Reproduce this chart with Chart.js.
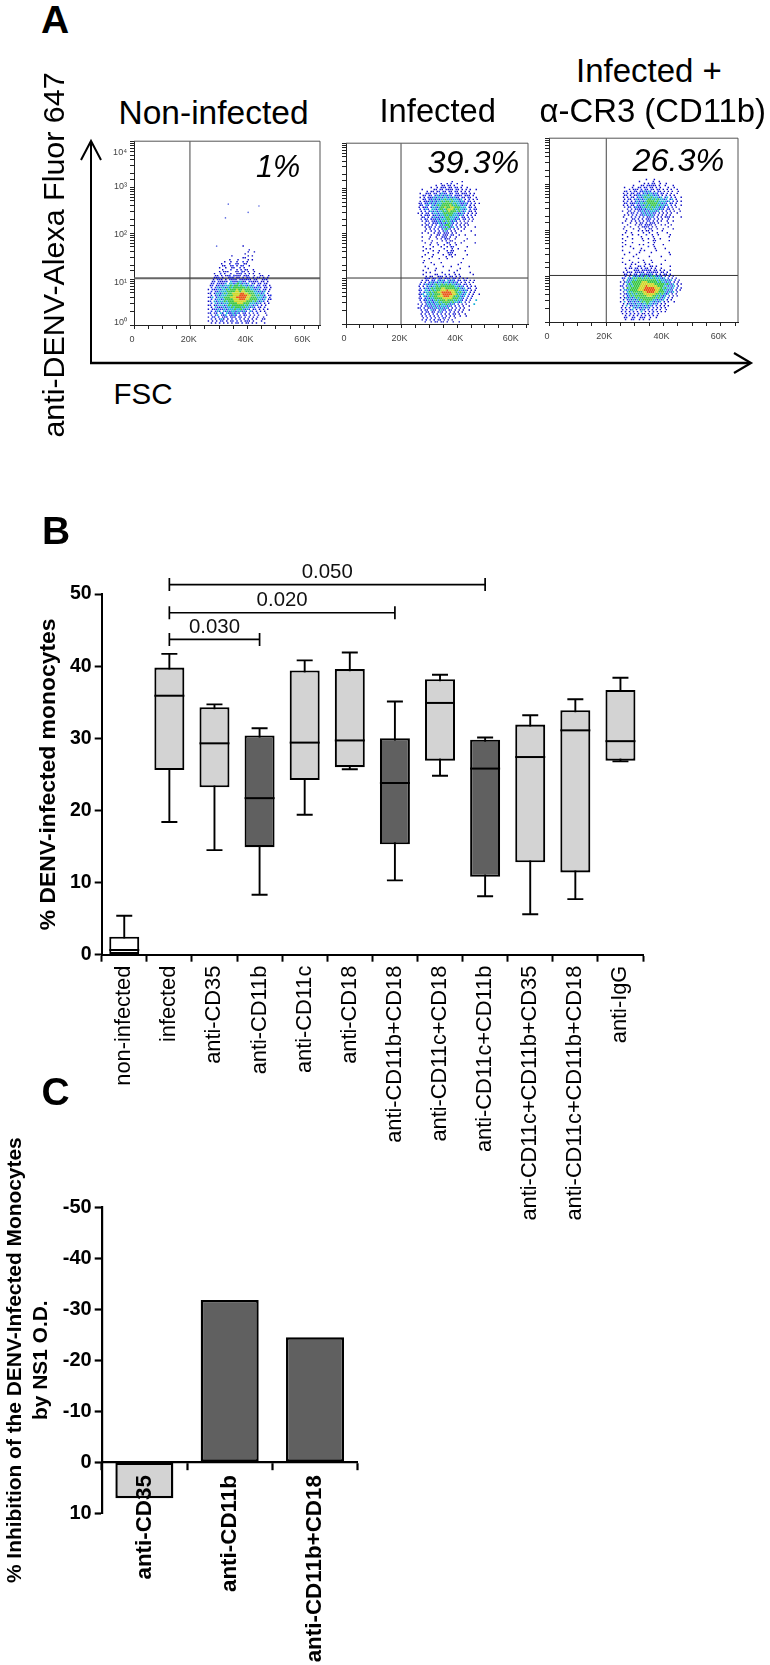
<!DOCTYPE html>
<html><head><meta charset="utf-8">
<style>
html,body{margin:0;padding:0;background:#fff;width:770px;height:1665px;overflow:hidden}
canvas{position:absolute}
.t{position:absolute;white-space:nowrap;line-height:1;font-family:"Liberation Sans",Arial,sans-serif;color:#000;transform-origin:center}
svg{position:absolute;left:0;top:0}
</style>
<script src="https://cdn.jsdelivr.net/npm/chart.js@4/dist/chart.umd.min.js"></script>
</head><body>
<svg width="770" height="440" fill="none" stroke="#000">
<path d="M91 141V363" stroke-width="2"/><path d="M81 160L91 141L101 160" stroke-width="2"/>
<path d="M90 363H750" stroke-width="2.4"/><path d="M734 353L751 363L734 373" stroke-width="2.2"/>
</svg>
<canvas id="p1"></canvas><canvas id="p2"></canvas><canvas id="p3"></canvas>
<canvas id="box"></canvas><canvas id="bar"></canvas>
<script>
/* ---------- Panel B data (box plot) ---------- */
const boxCategories=["non-infected","infected","anti-CD35","anti-CD11b","anti-CD11c","anti-CD18","anti-CD11b+CD18","anti-CD11c+CD18","anti-CD11c+CD11b","anti-CD11c+CD11b+CD35","anti-CD11c+CD11b+CD18","anti-IgG"];
const whiskerLow =[0,18.4,14.5,8.3,19.4,25.7,10.3,24.8,8.1,5.6,7.7,26.8];
const quartile1  =[0,25.6,23.2,14.9,24.2,26.0,15.3,26.9,10.8,12.8,11.4,26.9];
const medians    =[0.65,35.9,29.3,21.7,29.4,29.7,23.8,34.9,25.8,27.4,31.1,29.6];
const quartile3  =[2.5,39.8,34.3,30.4,39.4,39.6,30.0,38.2,29.8,31.9,33.9,36.7];
const whiskerHigh=[5.4,41.7,34.7,31.4,40.8,41.9,35.1,38.8,30.1,33.2,35.4,38.4];
const boxYTicks=[0,10,20,30,40,50];
const bracketFrom=["infected","infected","infected"];
const bracketTo=["anti-CD11b","anti-CD11b+CD18","anti-CD11c+CD11b"];
const bracketLevel=[43.7,47.4,51.3];
const bracketLabel=["0.030","0.020","0.050"];
/* ---------- Panel C data (bars) ---------- */
const barCategories=["anti-CD35","anti-CD11b","anti-CD11b+CD18"];
const barValues=[7.1,-31.8,-24.5];
/* ---------- Panel A data: gates, percentages, density ---------- */
const fscTicks=[0,20,40,60];
const flTicks=[1,10,100,1000,10000];
const nonInfectedGate=[19.7,10.4], infectedGate=[19.8,10.4], blockedGate=[20,10.3];
const nonInfectedOutliers=[[33.2,427],[32.2,214],[40.2,282],[44,389],[29.1,52]];
/* each character is one density cell: b,m blue, c cyan, g green, y yellow, r red */
const nonInfectedDensity=[
"                 b             ",
"                               ",
"                    b          ",
"                   b  b        ",
"                  b            ",
"           b       b b         ",
"                 bb            ",
"          b   b    b b         ",
"        b  b  b  m b           ",
"      b   b  mb  bb            ",
"       bb  bm b bm  b          ",
"     b  b  bb  m b             ",
"       b   m  b b bb  b        ",
"     b bbb   bb mb b  b        ",
"   b  m b  b  bbm b b b  b     ",
"   bb b bbm mbbb bmb  b  bb  b ",
"   bbm b  bmb bb b bm b bb b b ",
"  b mmb b mbmb mbmbmb mb  bmb  ",
"  bm mbbmm cmmbccbm mmbbm bb b ",
" bm mmbmc ccmcgcmcmc mb mb mb  ",
" bm bmcmcccgcggcgccmcmc mm mb b",
" m mcmccmcgcggggggcgccmmcm bm b",
"b mbmcmccgcgggyggygggccmcm mb b",
" m mmccccggggyygyyggggccmcmc b ",
"bm bccmcgcggyyyyrryygggcccmc b ",
" b mcmcccgggyyyrrrryyggcgccm bm",
"bmc mcccgggyyyrrrrryygggcccmc b",
" m mccmcggggyyyrrryyggggccmc bb",
"bm cmcccgcgggyyyyyygggcgcmcm b ",
" m cmcmcccggggyyygggcccmcm b b ",
"bm bmcccmcgcggggggcgccmcm b b  ",
" b cmbmcmccgcgggcgccmcm mb m   ",
"b bmmcmmcmcccgccgcmcm bm b b b ",
" m mcm cmcmccmccmcm cm m b b   ",
"bm bm cm cmmcmcm bm b b m   b  ",
" b bc bmc bmcm b mb b b b   b  ",
"b mm m bmm mbm mb b m b b  b   ",
" m b mcb b m b m b b b b  bb   ",
"b b b mm b bm m b bmb b   b    ",
" b b m b b b mb m bb b b   b   "];
const infectedDensity=[
"                 b    b        ",
"           b  b m  b           ",
"         b  bb mb b   b        ",
"      b  b bmb bb mb b  b      ",
"  b     bb mb mbmb mb b b b  b ",
"    b bb bm mb mb mb b b b     ",
" b  bmb mb mcmm bm mb bmb b b  ",
"  bm bm mcmcmcmcm mmbm bmb b   ",
" b b mbmcmccmccmcmcmb mb mb  b ",
"  bm mmcmcmccgccgcccmc b m b b ",
" b bmbcmcmccgcggcgcccmcm mb b  ",
"bm mmcmcmcccgggggcgccmmcm m b b",
" bm cm cmcgcggggygcgccmcm b b  ",
"b bmm mccmcggyggyygggccc bm b  ",
" m mcm ccmcggcgyyygcgccmc m mb ",
" b m mcmcmccgcgygggcgcmc mb b  ",
"b b mb mccmccgggggccmmcm b b b ",
" b mbm bmcmccgcggcccmcm b m b  ",
"  bm b mcmmcmcggcccmc mb m b    ",
" b mb mbmcmcccggccmcm bm b b   ",
"  b mb bmmcmcgcgcmcm b b b b   ",
"   b b mbmcmcmcgcm b b bb      ",
"  b bm b m cmcggcm m b b b     ",
"   b bm m mmcmcgmc m b b    b  ",
"    b b m m mcgcm b b  b       ",
"   b  b m b mcm b b  b    b    ",
"  b  b  b bm bmb b b           ",
"      b  bb mbb mb  b  b    b  ",
"  b   b  b  bmb b  b           ",
"     b   b b mbb  b     b      ",
"  b    b    b b bb     b       ",
"   b  b  b    mb  b  b      b  ",
"      b   m  b  b  b           ",
"  b    b   b  b bm      b      ",
"    b b      m   b  b          ",
"  b    b  b   b bb     b       ",
"     b    b    bmb             ",
"   b   b    b  bb b     b      ",
"  b    b      b  b             ",
"     b    b   b       b        ",
"   b                           ",
"  b   b    b         b          ",
"        b           b          ",
"   b        b   b        b     ",
"     b   b           b         ",
"  b     b      b   b           ",
"    b b     b     b       b    ",
"  b     bb   m b  b b      b   ",
"    b bb  bmb b mb b b         ",
"   bmb bm mb bmb mb b b b      ",
"  b mb mm cmcm cmcm mb mb b b  ",
" b b mcmcmccmccmcmcm b b b b   ",
" m mcmcmcgccgcgcgccmcm bm b    ",
"b b mcmccgcgggggggccmcm b b b  ",
" m mcmcgcgggyygggggcgcmc bm  b ",
"bm ccmcgcggyyyryyyggccmcm b b  ",
" m mccgcggyyrrrrryygcgcmc b b  ",
"bmc ccgcgggyrrrrryygccmc m b  b",
" b cmcgcggyyyrrryygcgcmc m b   ",
"bm mcmccggggyyyyygggccm b m    ",
" m mmccmcgcgggygggcgccm m b  c ",
" b bcmcmccgcggggcgccmc b b     ",
"b b mcmcmccgccgcmcm b b b   c  ",
" b mmcmcmcmcccmcm b m b  b     ",
"bm m bmmcmcmcmcm b m b b       ",
" b mb cmb mcmm bm b b b  b     ",
"  b mb bm mcm m m b b b        ",
" b m b m b m b b mb b  b       ",
"  b m b b m m b b b  b  b      ",
"  b b m b b mb b  b            ",
"  b m b m bm b b b             ",
"   b  b bb bb b  b  b          "];
const blockedDensity=[
"             b   b             ",
"         b      b  b           ",
"            b b mb  b  b       ",
"      b   bb mbmbb b  b   b    ",
"  b   b  bm bm mb b b   b  b   ",
"    b bmb m mb mb mb b b b  b  ",
"  bm b mb mmcmcm b mb b b b  b ",
" b b mb mm mcmccmcm mb b b  b  ",
"  bm b bmcmcccgccmcm b m b b   ",
" b b mb mcmcgccgcccmc mc m b  b",
"  b mb mcmcmccggcgcgccmc mc b  ",
" b m b mcmcmcggggcgccccmc m b b",
"  bm mbmcmccgcgggggccmcm bm b  ",
" b b mb mmcmcgcgggcgccmc m b  b",
"  b mb mcmmccgcgcgccmcm m b b  ",
"   b b mbmmcmccgcccmcm bm b  b ",
" b  bm b mmcmcmcccmc b m b b  b",
"   b bm m mcmcmcmm b b b b  b  ",
"  b b m b mmcmcmcm b b b b     ",
" b   b m b m bmcm b b bmb b   b",
"   b  bm b b mbm m b b  b      ",
"  b  b b m b mm b b b  b  b    ",
" b   b  b bm b bmb b    b      ",
"   b   b bb mbmb b  b b  b     ",
"  b  b   b bmbb b b     b      ",
" b    b  b  b mb  b  b    b    ",
"   b     b b bb b    b         ",
"  b  b     b  b   b    b       ",
" b    b  b   m  b  b     b     ",
"   b      b     b       b      ",
" b    b    b  b  b  b          ",
"  b        b    bb      b      ",
" b    b       b  b             ",
"  b      b b    b    b         ",
" b   b        m  b             ",
"      b   b      b    b        ",
" b        b b     b            ",
"    b    b     b        b      ",
"  b     b                b     ",
"      b       b     b          ",
" b       b                     ",
"    b      b   b      b        ",
" b    b  b  b   b              ",
"  b  b b    b b     b          ",
"     b   bm b  bb b      b     ",
"  b bb mb b mb b b  b          ",
"   b   bmb bmbmb bb b b  b     ",
" b bmb bmbmb mbmbmb bb b       ",
"  bm b mb mcmbmcm b b mb b     ",
"  m b cmcmcmgcmcgcmcm b m b    ",
" mb cmcgcggcgcgccgcccmc b b b  ",
" b cmcgcggggggggggcgccmcmc m b ",
"b bcmcgggggyyygggggcgccmcm b b ",
" b cgcggggyyyyyyygggggcgcmc b b",
"bm mcgcgggyyyryyyyygggccmcmc b ",
" m gcggggyyyrrrrryyygcgccmc m b",
"b cmcggggyyyrrrrrryyggccmcm b b",
" b cgcgggggyyrrrryygggcmcmc b  ",
"b bmcgcgcgggyyyyyyggcgcmc b b  ",
" b mcgcggggggyyyggcgcmc b b b  ",
"b bcmcmcgcggggggggcgcmc m b    ",
" b mcmcmcgcgggggccmcmc b b     ",
"b c bmcmcmcgcggccmcmc b b  b   ",
" b bcmcmccmccgccmcm b b        ",
" b c bmcmcmcmcmcm m b b b      ",
"b b m cmcmmcmcm m b b b        ",
" m b mc b mcm m m b b  b       ",
"b m b m b c b b m b b b        ",
" b b m b m bb b m  b           ",
"  b m b b b m b b b            ",
"  bm  bm  bmb  b  b            ",
"  b  bm  b b  b                "];

/* ---------- Styles and layout ---------- */
const FONT='"Liberation Sans",Arial,sans-serif';
const densityColors={b:"#0808c4",m:"#1a2cea",c:"#14aed6",g:"#38c644",y:"#cfd82a",r:"#ea5414"};
const densitySizes={b:1,m:1.1,c:1.2,g:1.35,y:1.4,r:1.4};
const darkBoxes=["anti-CD11b","anti-CD11b+CD18","anti-CD11c+CD11b"];
const LIGHT="#d3d3d3",DARK="#606060";
Chart.defaults.font.family=FONT;
Chart.defaults.animation=false;
Chart.defaults.responsive=false;
Chart.defaults.devicePixelRatio=1;
Chart.defaults.plugins.legend.display=false;
Chart.defaults.plugins.tooltip.enabled=false;

function setCanvas(id,l,t,w,h){const c=document.getElementById(id);c.style.left=l+"px";c.style.top=t+"px";c.width=w;c.height=h;return c;}

function densityPoints(rows,x0,colStep,logTop,logStep){
  const out={};
  rows.forEach((row,r)=>{[...row].forEach((ch,c)=>{
    if(ch===" ")return;
    (out[ch]=out[ch]||[]).push({x:x0+(c+(r%2)*0.5)*colStep,y:Math.pow(10,logTop-r*logStep)});
  });});
  return out;
}

function flowPlot(id,box,xMax,gate,dens,outliers,yLabels,gateW){
  const pad={l:44,t:8,r:6,b:26};
  const c=setCanvas(id,box.l-pad.l,box.t-pad.t,box.r-box.l+pad.l+pad.r,box.b-box.t+pad.t+pad.b);
  const sets=[];
  ["b","m","c","g","y","r"].forEach(k=>{if(dens[k])sets.push({data:dens[k],showLine:false,pointStyle:"rect",pointRadius:densitySizes[k],pointBorderWidth:0,backgroundColor:densityColors[k],borderColor:densityColors[k]});});
  if(outliers.length)sets.push({data:outliers.map(p=>({x:p[0],y:p[1]})),showLine:false,pointRadius:.8,pointBorderWidth:0,backgroundColor:"#5a6ae0"});
  sets.push({data:[{x:gate[0],y:1},{x:gate[0],y:10000}],showLine:true,pointRadius:0,borderColor:"#444",borderWidth:1});
  sets.push({data:[{x:0,y:gate[1]},{x:xMax,y:gate[1]}],showLine:true,pointRadius:0,borderColor:gateW>1?"#666":"#333",borderWidth:gateW});
  new Chart(c,{type:"scatter",data:{datasets:sets},
    options:{layout:{padding:{top:pad.t,right:pad.r,left:0,bottom:0}},
      scales:{
        x:{type:"linear",min:0,max:xMax,afterFit:s=>{s.height=pad.b;},
          grid:{drawOnChartArea:false,tickLength:4,tickColor:"#222",tickWidth:1},border:{color:"#222",width:1},
          ticks:{stepSize:5,includeBounds:false,autoSkip:false,maxRotation:0,padding:5,labelOffset:-2,color:"#444",font:{size:9},
            callback:v=>fscTicks.includes(v)?(v===0?"0":v+"K"):""}},
        y:{type:"logarithmic",min:1,max:10000,afterFit:s=>{s.width=pad.l;},
          grid:{drawOnChartArea:false,tickLength:4,tickColor:"#222",tickWidth:1},border:{color:"#222",width:1},
          ticks:{autoSkip:false,callback:()=>""}}
      }},
    plugins:[{id:"frame",afterDraw(ch){
      const a=ch.chartArea,ctx=ch.ctx;ctx.save();ctx.strokeStyle="#555";ctx.lineWidth=1;
      ctx.beginPath();ctx.moveTo(a.left,a.top);ctx.lineTo(a.right,a.top);ctx.lineTo(a.right,a.bottom);ctx.stroke();
      if(yLabels){ctx.fillStyle="#444";ctx.font="9px "+FONT;ctx.textAlign="right";ctx.textBaseline="middle";
        const sup=["\u2070","\u00b9","\u00b2","\u00b3","\u2074"],off=[-2,3,1,-1,11];
        flTicks.forEach((v,i)=>ctx.fillText("10"+sup[i],a.left-7,ch.scales.y.getPixelForValue(v)+off[i]));}
      ctx.restore();}}]
  });
}

flowPlot("p1",{l:133.5,t:139,r:320,b:325},65.5,nonInfectedGate,densityPoints(nonInfectedDensity,26.2,0.72,1.72,0.043),nonInfectedOutliers,true,2);
flowPlot("p2",{l:345.7,t:141,r:528,b:324.3},65.5,infectedGate,densityPoints(infectedDensity,26,0.72,3.15,0.0437),[],false,1);
flowPlot("p3",{l:548.5,t:136,r:737.5,b:322.3},66,blockedGate,densityPoints(blockedDensity,25,0.694,3.10,0.0429),[],false,1);

/* ---------- Panel B ---------- */
const boxArea={l:101.7,t:594,r:643,b:954.7};
const boxCanvas={t:540,h:720};
const bc=setCanvas("box",0,boxCanvas.t,770,boxCanvas.h);
new Chart(bc,{type:"bar",
  data:{labels:boxCategories,datasets:[{data:boxCategories.map((_,i)=>[quartile1[i],quartile3[i]]),
    backgroundColor:boxCategories.map((n,i)=>i===0?"#fff":darkBoxes.includes(n)?DARK:LIGHT),
    borderColor:"#000",borderWidth:2.1,borderSkipped:false,barPercentage:.665,categoryPercentage:1}]},
  options:{layout:{padding:{top:boxArea.t-boxCanvas.t,right:770-boxArea.r}},
    scales:{
      x:{type:"category",afterFit:s=>{s.height=boxCanvas.t+boxCanvas.h-boxArea.b;},
        grid:{drawOnChartArea:false,tickLength:7,tickColor:"#000",tickWidth:2},border:{color:"#000",width:2},
        ticks:{color:"#000",autoSkip:false,minRotation:90,maxRotation:90,padding:4,font:{size:21.8}}},
      y:{min:0,max:50,afterFit:s=>{s.width=boxArea.l;},
        grid:{drawOnChartArea:false,tickLength:7,tickColor:"#000",tickWidth:2},border:{color:"#000",width:2},
        afterBuildTicks:s=>{s.ticks=boxYTicks.map(v=>({value:v}));},
        ticks:{color:"#000",padding:3,font:{size:19.5,weight:"bold"}},
        title:{display:true,text:"% DENV-infected monocytes",color:"#000",font:{size:22.9,weight:"bold"},padding:{top:35,bottom:0}}}
    }},
  plugins:[{id:"whiskers",
    beforeDatasetsDraw(ch){
      const ctx=ch.ctx,x=ch.scales.x,y=ch.scales.y;ctx.save();ctx.strokeStyle="#000";ctx.lineWidth=1.9;
      boxCategories.forEach((n,i)=>{const px=x.getPixelForValue(i);
        ctx.beginPath();
        ctx.moveTo(px,y.getPixelForValue(whiskerLow[i]));ctx.lineTo(px,y.getPixelForValue(whiskerHigh[i]));
        [whiskerLow[i],whiskerHigh[i]].forEach(v=>{const py=y.getPixelForValue(v);ctx.moveTo(px-8,py);ctx.lineTo(px+8,py);});
        ctx.stroke();});
      ctx.restore();},
    afterDatasetsDraw(ch){
      const ctx=ch.ctx,x=ch.scales.x,y=ch.scales.y,bar=ch.getDatasetMeta(0).data;ctx.save();ctx.strokeStyle="#000";ctx.lineWidth=2;
      boxCategories.forEach((n,i)=>{const py=y.getPixelForValue(medians[i]),w=bar[i].width/2;
        ctx.beginPath();ctx.moveTo(bar[i].x-w,py);ctx.lineTo(bar[i].x+w,py);ctx.stroke();});
      ctx.lineWidth=1.7;ctx.fillStyle="#111";ctx.font="20.4px "+FONT;ctx.textAlign="center";ctx.textBaseline="middle";
      bracketLabel.forEach((lab,i)=>{
        const a=x.getPixelForValue(boxCategories.indexOf(bracketFrom[i])),b=x.getPixelForValue(boxCategories.indexOf(bracketTo[i])),py=y.getPixelForValue(bracketLevel[i]);
        ctx.beginPath();ctx.moveTo(a,py);ctx.lineTo(b,py);ctx.moveTo(a,py-6.5);ctx.lineTo(a,py+6.5);ctx.moveTo(b,py-6.5);ctx.lineTo(b,py+6.5);ctx.stroke();
        ctx.fillText(lab,(a+b)/2,py-12.5);});
      ctx.restore();}
  }]
});

/* ---------- Panel C ---------- */
const barArea={l:101.7,t:1207.4,r:357.7,b:1513};
const barCanvas={t:1130,h:535};
const rc=setCanvas("bar",0,barCanvas.t,770,barCanvas.h);
new Chart(rc,{type:"bar",
  data:{labels:barCategories,datasets:[{data:barValues,backgroundColor:barValues.map(v=>v>0?LIGHT:DARK),borderColor:"#000",borderWidth:2.4,borderSkipped:false,barPercentage:.68,categoryPercentage:1}]},
  options:{layout:{padding:{top:barArea.t-barCanvas.t,right:770-barArea.r,bottom:barCanvas.t+barCanvas.h-barArea.b}},
    scales:{
      x:{type:"category",position:{y:0},
        grid:{drawOnChartArea:false,tickLength:7,tickColor:"#000",tickWidth:2.2,z:1},border:{color:"#000",width:2.2,z:1},
        ticks:{color:"#000",autoSkip:false,minRotation:90,maxRotation:90,padding:6,z:2,font:{size:22.4,weight:"bold"}}},
      y:{reverse:true,min:-50,max:10,afterFit:s=>{s.width=barArea.l;},
        grid:{drawOnChartArea:false,tickLength:7,tickColor:"#000",tickWidth:2.2},border:{color:"#000",width:2.2},
        ticks:{stepSize:10,color:"#000",padding:3,font:{size:20,weight:"bold"},callback:v=>String(v)},
        title:{display:true,text:["% Inhibition of the DENV-Infected Monocytes","by NS1 O.D."],color:"#000",font:{size:20.9,weight:"bold",lineHeight:1.27},padding:{top:1.5,bottom:0}}}
    }}
});

/* ---------- HTML text ---------- */
function put(text,cx,cy,size,opt){opt=opt||{};
  const s=document.createElement("div");s.className="t";s.textContent=text;
  s.style.fontSize=size+"px";s.style.fontWeight=opt.bold?"bold":"normal";s.style.fontStyle=opt.italic?"italic":"normal";
  document.body.appendChild(s);
  const sx=opt.w?opt.w/s.offsetWidth:1;
  s.style.left=(cx-s.offsetWidth/2)+"px";s.style.top=(cy-s.offsetHeight/2)+"px";
  s.style.transform=(opt.rot?"rotate("+opt.rot+"deg) ":"")+"scaleX("+sx+")";
}
put("A",55,19,39,{bold:true});put("B",56,530,39,{bold:true});put("C",55.5,1091,39,{bold:true});
put("Non-infected",213,112,33,{w:190});
put("Infected",437,110,33,{w:116});
put("Infected +",649,70.5,33,{w:146});
put("\u03b1-CR3 (CD11b)",652.5,110.5,33,{w:227});
put("1%",278,165.5,32,{italic:true,w:44});
put("39.3%",473,162,32,{italic:true,w:92});
put("26.3%",678.5,159.5,32,{italic:true,w:92});
put("FSC",142.5,394,30,{w:59});
put("anti-DENV-Alexa Fluor 647",53.5,254.5,30,{rot:-90,w:365});
</script>
</body></html>
